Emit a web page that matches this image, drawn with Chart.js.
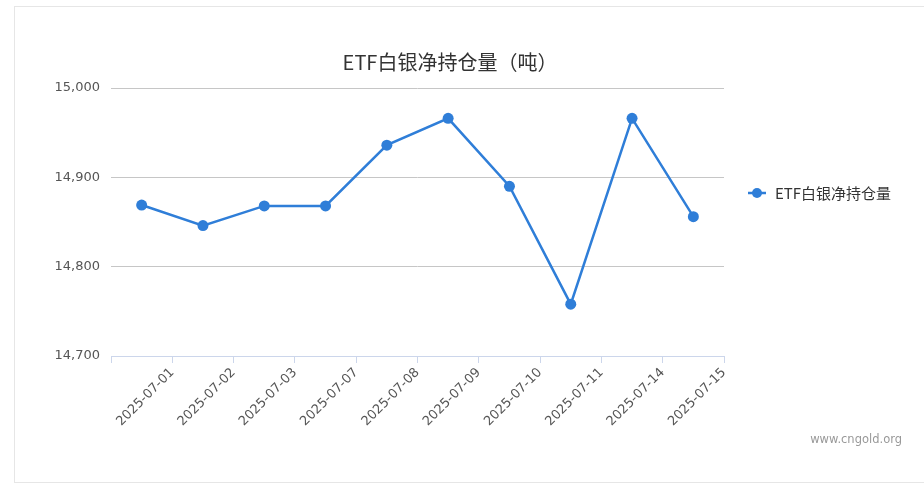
<!DOCTYPE html>
<html>
<head>
<meta charset="utf-8">
<script src="https://cdn.jsdelivr.net/npm/chart.js@4/dist/chart.umd.min.js"></script>
<style>
  html, body { margin: 0; padding: 0; background: #fff; }
  body { width: 924px; height: 488px; position: relative; overflow: hidden; }
  #frame { position: absolute; left: 14px; top: 6px; width: 960px; height: 475px; border: 1px solid #e6e6e6; }
  #wrap { position: absolute; left: 0; top: 0; width: 900px; height: 488px; }
  #mark { position: absolute; right: 22px; top: 432px; font: 11.5px "DejaVu Sans", sans-serif; color: #999; }
</style>
</head>
<body>
<div id="frame"></div>
<div id="wrap"><canvas id="myChart"></canvas></div>
<div id="mark">www.cngold.org</div>
<script>
// 日期 / ETF白银净持仓量（吨）
var dates = ["2025-07-01", "2025-07-02", "2025-07-03", "2025-07-07", "2025-07-08",
             "2025-07-09", "2025-07-10", "2025-07-11", "2025-07-14", "2025-07-15"];
var holdings = [14869, 14846, 14868, 14868, 14936, 14966, 14890, 14758, 14966, 14856];
var seriesName = "ETF白银净持仓量";
var yTicks = [14700, 14800, 14900, 15000];

var lineColor = "#2f7ed8";

// legend drawn on the right side, like the original page
var sideLegend = {
    id: "sideLegend",
    afterDraw: function (chart) {
        var ctx = chart.ctx;
        var ds = chart.data.datasets[0];
        var x = 748, y = 193;
        ctx.save();
        ctx.strokeStyle = ds.borderColor;
        ctx.lineWidth = 2.5;
        ctx.beginPath();
        ctx.moveTo(x, y);
        ctx.lineTo(x + 18, y);
        ctx.stroke();
        ctx.fillStyle = ds.borderColor;
        ctx.beginPath();
        ctx.arc(x + 9, y, 5, 0, Math.PI * 2);
        ctx.fill();
        ctx.fillStyle = "#333";
        ctx.font = '15px "Noto Sans CJK SC", sans-serif';
        ctx.textBaseline = "middle";
        ctx.textAlign = "left";
        ctx.fillText(ds.label, x + 27, y);
        ctx.restore();
    }
};

var chart = new Chart("myChart", {
    type: "line",
    data: {
        labels: dates,
        datasets: [{
            label: seriesName,
            data: holdings,
            borderColor: lineColor,
            backgroundColor: lineColor,
            borderWidth: 2.5,
            pointRadius: 5.5,
            pointHoverRadius: 5.5,
            pointBorderWidth: 0,
            tension: 0
        }]
    },
    options: {
        responsive: true,
        maintainAspectRatio: false,
        animation: false,
        plugins: {
            legend: { display: false },
            tooltip: { enabled: false },
            title: {
                display: true,
                text: "ETF白银净持仓量（吨）",
                color: "#333",
                font: { family: '"Noto Sans CJK SC", sans-serif', size: 20, weight: "normal" },
                padding: { top: 50, bottom: 14 }
            }
        },
        scales: {
            x: {
                offset: true,
                grid: { drawOnChartArea: false, drawTicks: true, tickLength: 7, color: "#ccd6eb", offset: true },
                border: { color: "#ccd6eb", width: 1 },
                ticks: {
                    autoSkip: false,
                    minRotation: 45,
                    maxRotation: 45,
                    labelOffset: 30.6,
                    padding: 2,
                    color: "#555",
                    font: { family: '"DejaVu Sans", sans-serif', size: 13 }
                },
                afterFit: function (scale) { scale.height = 132; }
            },
            y: {
                min: yTicks[0],
                max: yTicks[yTicks.length - 1],
                afterBuildTicks: function (scale) {
                    scale.ticks = yTicks.map(function (v) { return { value: v }; });
                },
                grid: {
                    drawTicks: false,
                    color: function (c) { return c.tick && c.tick.value === yTicks[0] ? "rgba(0,0,0,0)" : "#c6c6c6"; }
                },
                border: { display: false },
                ticks: {
                    padding: 11,
                    color: "#555",
                    font: { family: '"DejaVu Sans", sans-serif', size: 13 }
                },
                afterFit: function (scale) { scale.width = 111; }
            },
            // empty right axis: keeps room for the legend
            side: {
                position: "right",
                grid: { display: false },
                border: { display: false },
                ticks: { display: false },
                afterFit: function (scale) { scale.width = 176; }
            }
        }
    },
    plugins: [sideLegend]
});
</script>
</body>
</html>
